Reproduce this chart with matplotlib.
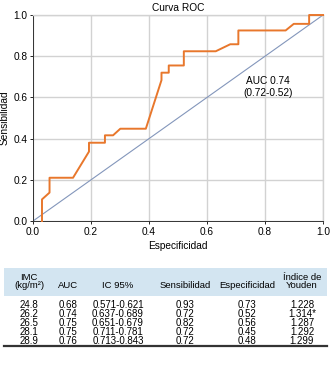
import matplotlib
matplotlib.use('Agg')
from matplotlib import pyplot
from matplotlib.patches import Rectangle

# Data #
roc_x = [0.031, 0.031, 0.057, 0.057, 0.138, 0.193, 0.193, 0.248, 0.248, 0.276, 0.301,
         0.389, 0.443, 0.443, 0.468, 0.468, 0.52, 0.52, 0.63, 0.68, 0.708, 0.708, 0.871,
         0.899, 0.952, 0.952, 1.0]
roc_y = [0.0, 0.105, 0.138, 0.21, 0.21, 0.337, 0.38, 0.38, 0.416, 0.416, 0.448,
         0.448, 0.684, 0.72, 0.72, 0.755, 0.755, 0.824, 0.824, 0.858, 0.858, 0.925, 0.925,
         0.957, 0.957, 1.0, 1.0]
ticks = [0.0, 0.2, 0.4, 0.6, 0.8, 1.0]
auc_label = 'AUC 0.74\n(0.72-0.52)'

col_headers = ['IMC\n(kg/m²)', 'AUC', 'IC 95%', 'Sensibilidad', 'Especificidad', 'Índice de\nYouden']
imc    = ['24.8', '26.2', '26.5', '28.1', '28.9']
auc    = ['0.68', '0.74', '0.75', '0.75', '0.76']
ic95   = ['0.571-0.621', '0.637-0.689', '0.651-0.679', '0.711-0.781', '0.713-0.843']
sens   = ['0.93', '0.72', '0.82', '0.72', '0.72']
espec  = ['0.73', '0.52', '0.56', '0.45', '0.48']
youden = ['1.228', '1.314*', '1.287', '1.292', '1.299']

# Style #
pyplot.rcParams['font.family'] = ['Liberation Sans', 'DejaVu Sans']
orange = '#e8772c'
diag   = '#8396bb'
grid   = '#d2d2d2'

fig = pyplot.figure(figsize=(3.31, 3.78), dpi=100)
ax = fig.add_axes([0.0997, 0.4153, 0.8763, 0.5450])

# Curves #
ax.plot([0, 1], [0, 1], color=diag, linewidth=0.8, zorder=2)
ax.plot(roc_x, roc_y, color=orange, linewidth=1.4, zorder=3, clip_on=False)
ax.text(0.81, 0.65, auc_label, ha='center', va='center', fontsize=7.3)

# Axes #
ax.set_xlim(0, 1)
ax.set_ylim(0, 1)
ax.set_xticks(ticks)
ax.set_yticks(ticks)
ax.set_xticklabels(['%.1f' % t for t in ticks])
ax.set_yticklabels(['%.1f' % t for t in ticks])
ax.tick_params(labelsize=7.3, length=2, width=0.6, pad=2)
ax.grid(True, color=grid, linewidth=1.0, zorder=0)
ax.set_axisbelow(True)
for side in ['top', 'right']:
    ax.spines[side].set_color(grid)
    ax.spines[side].set_linewidth(1.0)
for side in ['left', 'bottom']:
    ax.spines[side].set_color('#333333')
    ax.spines[side].set_linewidth(0.7)
ax.set_title('Curva ROC', fontsize=7.3, pad=3)
ax.set_xlabel('Especificidad', fontsize=7.3, labelpad=3)
ax.set_ylabel('Sensibilidad', fontsize=7.3, labelpad=3)

# Table #
H = 378.0
W = 331.0
fy = lambda py: 1 - py / H
fx = lambda px: px / W
fig.patches.append(Rectangle((fx(4), fy(296)), fx(323), (296 - 268) / H, transform=fig.transFigure,
                             facecolor='#d3e5f1', edgecolor='none', zorder=0))
fig.add_artist(pyplot.Line2D([fx(4), fx(327)], [fy(346), fy(346)], transform=fig.transFigure,
                             color='#333333', linewidth=1.6))
col_x = [29, 68, 118, 185, 247, 302]
for cx, head in zip(col_x, col_headers):
    fig.text(fx(cx), fy(290.5), head, ha='center', va='bottom', fontsize=6.8, linespacing=1.0)
columns = [imc, auc, ic95, sens, espec, youden]
for cx, col in zip(col_x, columns):
    fig.text(fx(cx), fy(299.5), '\n'.join(col), ha='center', va='top', fontsize=7.0, linespacing=0.9)

fig.savefig('out.png', dpi=100)
